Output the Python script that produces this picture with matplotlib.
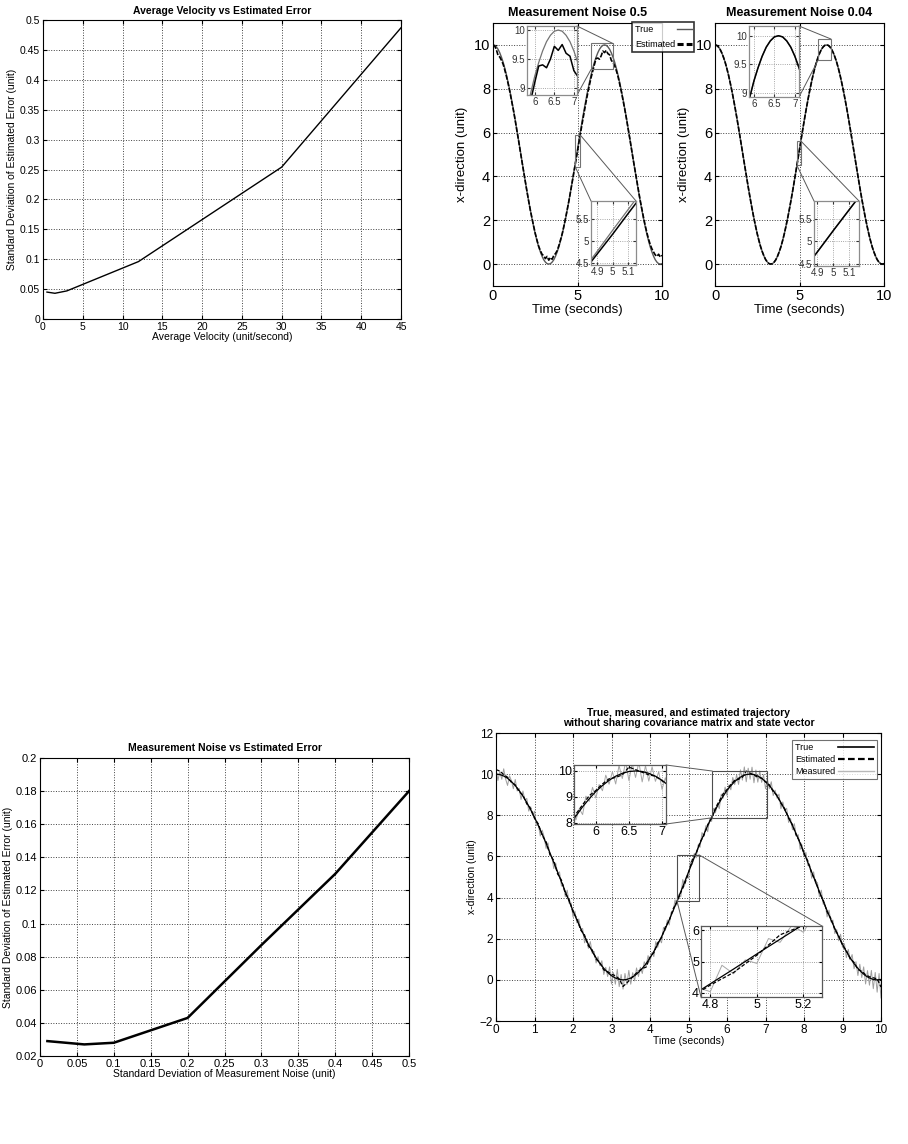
import matplotlib
matplotlib.use('Agg')
import matplotlib.pyplot as plt
import numpy as np
from matplotlib.patches import Rectangle, ConnectionPatch
from matplotlib.ticker import FuncFormatter
from matplotlib.lines import Line2D

plt.rcParams['font.family'] = ['Liberation Sans', 'DejaVu Sans']
NARROW = ['Liberation Sans Narrow', 'Liberation Sans', 'DejaVu Sans']

# ---------------- data ----------------
vel_x = [0.5, 1.5, 3, 12, 30, 45]
vel_err = [0.045, 0.043, 0.047, 0.096, 0.254, 0.487]

noise_x = [0.01, 0.06, 0.1, 0.15, 0.2, 0.3, 0.4, 0.5]
noise_err = [0.029, 0.027, 0.028, 0.0355, 0.043, 0.087, 0.13, 0.18]

# time samples (0 .. 10 s, every 0.1 s) and (every 0.05 s)
time_s = np.round(np.arange(101) * 0.1, 2)
time_fine = np.round(np.arange(201) * 0.05, 2)

true_x = [10.00, 9.98, 9.91, 9.80, 9.64, 9.44, 9.21, 8.93, 8.62, 8.27,
          7.90, 7.50, 7.08, 6.64, 6.18, 5.71, 5.24, 4.76, 4.29, 3.82,
          3.36, 2.92, 2.50, 2.10, 1.73, 1.38, 1.07, 0.79, 0.56, 0.36,
          0.20, 0.09, 0.02, 0.00, 0.02, 0.09, 0.20, 0.36, 0.56, 0.79,
          1.07, 1.38, 1.73, 2.10, 2.50, 2.92, 3.36, 3.82, 4.29, 4.76,
          5.24, 5.71, 6.18, 6.64, 7.08, 7.50, 7.90, 8.27, 8.62, 8.93,
          9.21, 9.44, 9.64, 9.80, 9.91, 9.98, 10.00, 9.98, 9.91, 9.80,
          9.64, 9.44, 9.21, 8.93, 8.62, 8.27, 7.90, 7.50, 7.08, 6.64,
          6.18, 5.71, 5.24, 4.76, 4.29, 3.82, 3.36, 2.92, 2.50, 2.10,
          1.73, 1.38, 1.07, 0.79, 0.56, 0.36, 0.20, 0.09, 0.02, 0.00,
          0.02]

est_noise05 = [10.00, 9.95, 9.78, 9.52, 9.45, 9.30, 9.12, 8.85, 8.55, 8.22,
               7.85, 7.45, 7.05, 6.62, 6.15, 5.70, 5.22, 4.75, 4.28, 3.82,
               3.36, 2.92, 2.50, 2.12, 1.75, 1.40, 1.10, 0.82, 0.62, 0.45,
               0.38, 0.25, 0.35, 0.18, 0.30, 0.22, 0.40, 0.48, 0.62, 0.85,
               1.12, 1.40, 1.75, 2.12, 2.52, 2.92, 3.36, 3.80, 4.25, 4.70,
               5.15, 5.62, 6.08, 6.52, 6.95, 7.38, 7.78, 8.15, 8.50, 8.80,
               9.10, 9.38, 9.40, 9.35, 9.50, 9.72, 9.65, 9.75, 9.60, 9.55,
               9.30, 9.20, 9.05, 8.82, 8.55, 8.20, 7.85, 7.45, 7.05, 6.62,
               6.15, 5.70, 5.22, 4.75, 4.30, 3.85, 3.40, 2.95, 2.55, 2.15,
               1.78, 1.45, 1.15, 0.90, 0.70, 0.55, 0.42, 0.35, 0.45, 0.32,
               0.40]

est_noise004 = list(true_x)

est_nosharing = [10.22, 10.15, 9.98, 9.85, 9.60, 9.48, 9.15, 8.98, 8.55, 8.33,
                 7.85, 7.58, 7.02, 6.72, 6.10, 5.80, 5.15, 4.85, 4.20, 3.90,
                 3.30, 2.98, 2.42, 2.18, 1.65, 1.45, 1.00, 0.85, 0.48, 0.40,
                 0.28, 0.20, 0.05, -0.32, -0.15, 0.05, 0.25, 0.42, 0.55, 0.62,
                 1.10, 1.32, 1.80, 2.05, 2.58, 2.88, 3.45, 3.78, 4.25, 4.65,
                 5.20, 5.85, 6.15, 6.70, 7.02, 7.55, 7.85, 8.35, 8.70, 9.05,
                 9.25, 9.50, 9.70, 9.75, 9.85, 10.15, 10.05, 9.95, 9.85, 9.80,
                 9.62, 9.48, 9.15, 8.98, 8.58, 8.32, 7.85, 7.55, 7.02, 6.70,
                 6.12, 5.78, 5.18, 4.82, 4.22, 3.88, 3.30, 2.98, 2.45, 2.15,
                 1.68, 1.42, 1.02, 0.85, 0.50, 0.42, 0.25, 0.15, 0.10, 0.05,
                 -0.35]

measured_x = [10.25, 9.69, 10.13, 9.75, 10.26, 9.76, 9.45, 9.92, 9.69, 9.29,
              9.74, 9.18, 9.31, 8.77, 9.18, 8.73, 8.82, 8.20, 8.42, 7.99,
              8.20, 7.50, 7.55, 6.99, 7.28, 6.96, 6.39, 6.66, 6.03, 6.00,
              5.41, 5.68, 5.19, 5.25, 4.56, 4.63, 4.04, 4.36, 3.72, 3.74,
              3.06, 3.34, 2.77, 2.96, 2.45, 2.50, 1.80, 2.02, 1.53, 1.86,
              1.28, 1.38, 0.82, 1.13, 0.69, 0.93, 0.26, 0.61, 0.16, 0.63,
              -0.20, 0.35, -0.21, 0.51, -0.33, 0.26, -0.45, 0.31, -0.23, 0.46,
              -0.21, 0.35, -0.05, 0.58, 0.16, 0.61, 0.31, 0.88, 0.69, 1.18,
              0.87, 1.33, 1.13, 1.86, 1.58, 1.97, 1.80, 2.55, 2.40, 2.91,
              2.67, 3.29, 3.31, 3.89, 3.62, 4.16, 4.04, 4.88, 4.61, 5.05,
              4.94, 5.73, 5.61, 6.15, 5.93, 6.56, 6.44, 7.16, 6.98, 7.49,
              7.20, 7.85, 7.70, 8.34, 8.12, 8.55, 8.32, 9.03, 8.83, 9.37,
              8.96, 9.48, 9.24, 9.84, 9.49, 9.97, 9.50, 10.21, 9.71, 10.35,
              9.63, 10.29, 9.75, 10.34, 9.58, 10.20, 9.61, 10.16, 9.60, 9.97,
              9.29, 9.74, 9.29, 9.63, 8.96, 9.22, 8.83, 9.03, 8.32, 8.65,
              8.22, 8.34, 7.65, 7.85, 7.30, 7.59, 6.98, 7.06, 6.34, 6.56,
              5.98, 6.20, 5.56, 5.58, 4.94, 5.25, 4.66, 4.73, 4.04, 4.36,
              3.67, 3.69, 3.06, 3.39, 2.82, 2.91, 2.25, 2.45, 1.90, 2.22,
              1.58, 1.76, 1.08, 1.48, 0.97, 1.23, 0.54, 0.88, 0.21, 0.76,
              0.11, 0.63, -0.20, 0.45, -0.26, 0.46, -0.43, 0.36, -0.60, 0.31,
              -0.88]

# ---------------- figure ----------------
W, H = 908, 1144
fig = plt.figure(figsize=(W / 100, H / 100), dpi=100)


def px_axes(l, t, r, b):
    return fig.add_axes([l / W, 1 - b / H, (r - l) / W, (b - t) / H])


gfmt = FuncFormatter(lambda v, p: '%g' % round(v, 6))


def style(ax, fs, fam=None, ticklen=3):
    ax.grid(True, ls=':', color='0.25', lw=0.7)
    ax.tick_params(direction='in', length=ticklen, labelsize=fs, pad=2,
                   top=True, right=True, labeltop=False, labelright=False)
    for lab in ax.get_xticklabels() + ax.get_yticklabels():
        if fam:
            lab.set_family(fam)
    for s in ax.spines.values():
        s.set_linewidth(0.8)


def connect(axA, ptA, axB, ptB, color='0.35'):
    con = ConnectionPatch(xyA=ptA, coordsA=axA.transData, xyB=ptB,
                          coordsB=axB.transData, color=color, lw=0.7, zorder=5)
    fig.add_artist(con)


def rect(ax, x0, y0, x1, y1, color='0.3'):
    ax.add_patch(Rectangle((x0, y0), x1 - x0, y1 - y0, fill=False,
                           ec=color, lw=0.8, zorder=6))


# ---- top-left: velocity ----
ax1 = px_axes(43, 20, 401, 319)
ax1.plot(vel_x, vel_err, color='black', lw=1.0)
ax1.set_xlim(0, 45)
ax1.set_ylim(0, 0.5)
ax1.set_xticks(np.arange(0, 46, 5))
ax1.set_yticks(np.arange(0, 0.501, 0.05))
ax1.xaxis.set_major_formatter(gfmt)
ax1.yaxis.set_major_formatter(gfmt)
style(ax1, 7.5)
ax1.set_title('Average Velocity vs Estimated Error', fontsize=7.5,
              fontweight='bold', family=NARROW, pad=4)
ax1.set_xlabel('Average Velocity (unit/second)', fontsize=7.5, labelpad=0)
ax1.set_ylabel('Standard Deviation of Estimated Error (unit)', fontsize=7.5,
               labelpad=2)


# ---- top-right: two trajectory panels ----
def traj_panel(l, r, title, est, legend):
    ax = px_axes(l, 23, r, 286)
    ax.plot(time_s, true_x, color='0.35', lw=1.0)
    ax.plot(time_s, est, color='black', lw=1.2, ls=(0, (3, 1)))
    ax.set_xlim(0, 10)
    ax.set_ylim(-1, 11)
    ax.set_xticks([0, 5, 10])
    ax.set_yticks([0, 2, 4, 6, 8, 10])
    style(ax, 10.5, NARROW)
    ax.set_title(title, fontsize=9, fontweight='bold', family=NARROW, pad=5)
    ax.set_xlabel('Time (seconds)', fontsize=9.5, family=NARROW, labelpad=1)
    ax.set_ylabel('x-direction (unit)', fontsize=9.5, family=NARROW, labelpad=4)
    if legend:
        hs = [Line2D([], [], color='0.35', lw=1.0),
              Line2D([], [], color='black', lw=2.2, ls=(0, (2, 1)))]
        lg = ax.legend(hs, ['True' + ' ' * 9, 'Estimated'], loc='upper left',
                       bbox_to_anchor=(632 / W, 1 - 22 / H),
                       bbox_transform=fig.transFigure, markerfirst=False,
                       fancybox=False, borderpad=0.3, handlelength=1.6,
                       labelspacing=0.7, handletextpad=0.2, borderaxespad=0,
                       prop={'family': NARROW, 'size': 6.5})
        lg.get_frame().set_edgecolor('black')
        lg.get_frame().set_linewidth(1.2)
        lg.set_zorder(20)
    return ax


def small_inset(l, t, r, b, xl, yl, xt, yt, est, fs=7, fam=NARROW,
                spine='0.55', true_col='0.45'):
    ai = px_axes(l, t, r, b)
    ai.plot(time_s, true_x, color=true_col, lw=0.9)
    ai.plot(time_s, est, color='black', lw=1.1)
    ai.set_xlim(*xl)
    ai.set_ylim(*yl)
    ai.set_xticks(xt)
    ai.set_yticks(yt)
    ai.xaxis.set_major_formatter(gfmt)
    ai.yaxis.set_major_formatter(gfmt)
    ai.grid(True, ls=':', color='0.55', lw=0.6)
    ai.tick_params(direction='in', length=2, labelsize=fs, pad=1.5,
                   top=True, right=True, colors='0.2')
    for lab in ai.get_xticklabels() + ai.get_yticklabels():
        lab.set_family(fam)
    for s in ai.spines.values():
        s.set_color(spine)
        s.set_linewidth(0.9)
    ai.set_zorder(10)
    return ai


axL = traj_panel(493, 662, 'Measurement Noise 0.5', est_noise05, True)
axR = traj_panel(715, 884, 'Measurement Noise 0.04', est_noise004, False)

# insets of left panel
iL1 = small_inset(527, 26, 577, 95, (5.8, 7.08), (8.88, 10.07),
                  [6, 6.5, 7], [9, 9.5, 10], est_noise05)
rect(axL, 5.8, 8.88, 7.08, 10.07, color='0.45')
connect(iL1, (7.08, 10.07), axL, (7.08, 10.07))
connect(iL1, (7.08, 8.88), axL, (5.8, 8.88))

iL2 = small_inset(591, 201, 636, 265, (4.86, 5.15), (4.45, 5.9),
                  [4.9, 5, 5.1], [4.5, 5, 5.5], est_noise05)
rect(axL, 4.86, 4.45, 5.15, 5.9, color='0.45')
connect(axL, (5.15, 5.9), iL2, (5.15, 5.9))
connect(axL, (4.86, 4.45), iL2, (4.86, 5.9))

# insets of right panel
iR1 = small_inset(749, 26, 799, 97, (5.88, 7.1), (8.93, 10.17),
                  [6, 6.5, 7], [9, 9.5, 10], est_noise004)
rect(axR, 6.1, 9.3, 6.86, 10.27, color='0.45')
connect(iR1, (7.1, 10.17), axR, (6.86, 10.27))
connect(iR1, (7.1, 8.93), axR, (6.1, 9.3))

iR2 = small_inset(814, 201, 859, 266, (4.88, 5.16), (4.45, 5.9),
                  [4.9, 5, 5.1], [4.5, 5, 5.5], est_noise004)
rect(axR, 4.85, 4.5, 5.1, 5.6, color='0.45')
connect(axR, (5.1, 5.6), iR2, (5.16, 5.9))
connect(axR, (4.85, 4.5), iR2, (4.88, 5.9))

# ---- bottom-left: measurement noise ----
ax3 = px_axes(40, 758, 409, 1056)
ax3.plot(noise_x, noise_err, color='black', lw=1.8)
ax3.set_xlim(0, 0.5)
ax3.set_ylim(0.02, 0.2)
ax3.set_xticks(np.arange(0, 0.501, 0.05))
ax3.set_yticks(np.arange(0.02, 0.2001, 0.02))
ax3.xaxis.set_major_formatter(gfmt)
ax3.yaxis.set_major_formatter(gfmt)
style(ax3, 8)
ax3.set_title('Measurement Noise vs Estimated Error', fontsize=7.5,
              fontweight='bold', family=NARROW, pad=5)
ax3.set_xlabel('Standard Deviation of Measurement Noise (unit)', fontsize=7.5,
               labelpad=0)
ax3.set_ylabel('Standard Deviation of Estimated Error (unit)', fontsize=7.5,
               labelpad=2)

# ---- bottom-right: trajectory without sharing ----
ax4 = px_axes(496, 733, 881, 1021)
ax4.plot(time_fine, measured_x, color='0.62', lw=0.7, zorder=2)
ax4.plot(time_s, true_x, color='black', lw=0.9, zorder=3)
ax4.plot(time_s, est_nosharing, color='black', lw=0.9, ls=(0, (3, 1.5)), zorder=4)
ax4.set_xlim(0, 10)
ax4.set_ylim(-2, 12)
ax4.set_xticks(np.arange(0, 11, 1))
ax4.set_yticks(np.arange(-2, 13, 2))
style(ax4, 8.5)
ax4.set_title('True, measured, and estimated trajectory\n'
              'without sharing covariance matrix and state vector',
              fontsize=7.5, fontweight='bold', family=NARROW, pad=5,
              linespacing=1.05)
ax4.set_xlabel('Time (seconds)', fontsize=7.5, labelpad=0)
ax4.set_ylabel('x-direction (unit)', fontsize=7.5, labelpad=2)
hs = [Line2D([], [], color='black', lw=1.2),
      Line2D([], [], color='black', lw=1.6, ls=(0, (3, 1.5))),
      Line2D([], [], color='0.72', lw=1.0)]
lg4 = ax4.legend(hs, ['True' + ' ' * 9, 'Estimated', 'Measured'],
                 loc='upper right',
                 bbox_to_anchor=(877 / W, 1 - 740 / H),
                 bbox_transform=fig.transFigure, markerfirst=False,
                 fancybox=False, borderpad=0.3, handlelength=4.0,
                 labelspacing=0.35, handletextpad=0.3, borderaxespad=0,
                 prop={'size': 6.5})
lg4.get_frame().set_edgecolor('0.3')
lg4.get_frame().set_linewidth(0.8)
lg4.set_zorder(20)


def big_inset(l, t, r, b, xl, yl, xt, yt):
    ai = px_axes(l, t, r, b)
    ai.plot(time_fine, measured_x, color='0.65', lw=0.7)
    ai.plot(time_s, true_x, color='black', lw=0.9)
    ai.plot(time_s, est_nosharing, color='black', lw=0.9, ls=(0, (3, 1.5)))
    ai.set_xlim(*xl)
    ai.set_ylim(*yl)
    ai.set_xticks(xt)
    ai.set_yticks(yt)
    ai.xaxis.set_major_formatter(gfmt)
    ai.yaxis.set_major_formatter(gfmt)
    ai.grid(True, ls=':', color='0.5', lw=0.6)
    ai.tick_params(direction='in', length=2, labelsize=9, pad=1.5,
                   top=True, right=True)
    for s in ai.spines.values():
        s.set_color('0.35')
        s.set_linewidth(0.9)
    ai.set_zorder(10)
    return ai


iB1 = big_inset(574, 765, 666, 824, (5.67, 7.06), (7.96, 10.23),
                [6, 6.5, 7], [8, 9, 10])
rect(ax4, 5.62, 7.88, 7.05, 10.15)
connect(iB1, (7.06, 10.23), ax4, (5.62, 10.15))
connect(iB1, (7.06, 7.96), ax4, (5.62, 7.88))

iB2 = big_inset(701, 926, 822, 997, (4.76, 5.28), (3.87, 6.13),
                [4.8, 5, 5.2], [4, 5, 6])
rect(ax4, 4.70, 3.85, 5.27, 6.08)
connect(ax4, (5.27, 6.08), iB2, (5.28, 6.13))
connect(ax4, (4.70, 3.85), iB2, (4.76, 3.87))

fig.savefig('out.png', dpi=100)
